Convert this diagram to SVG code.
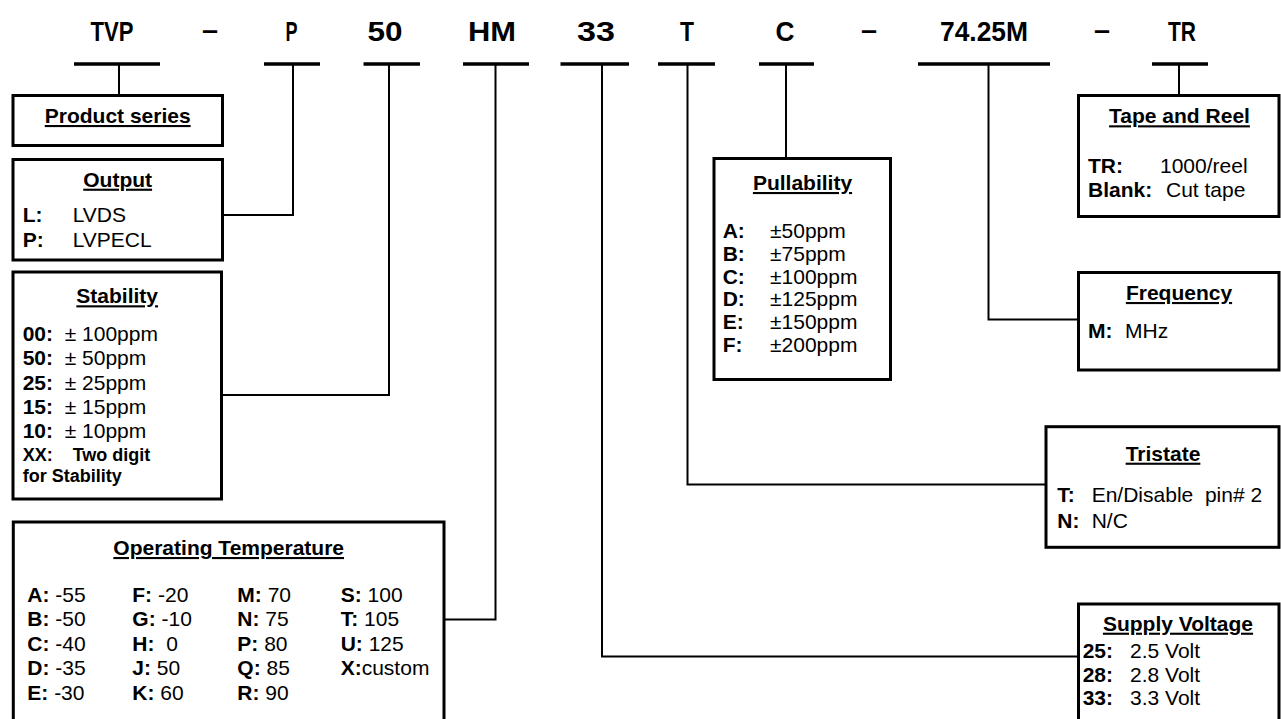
<svg xmlns="http://www.w3.org/2000/svg" width="1281" height="719" viewBox="0 0 1281 719" xml:space="preserve">
<style>
text{font-family:"Liberation Sans",Arial,sans-serif;font-size:21px;fill:#000;white-space:pre}
.hd{font-size:28px;font-weight:bold;text-anchor:middle}
.t{font-weight:bold;text-anchor:middle;text-decoration:underline}
.b{font-weight:bold}
.s{font-size:18px;font-weight:bold}
.box{fill:#fff;stroke:#000;stroke-width:3}
.bar{stroke:#000;stroke-width:3.5;fill:none}
.ln{stroke:#000;stroke-width:2;fill:none}
</style>
<rect width="1281" height="719" fill="#fff"/>
<g id="header">
<text class="hd" x="112" y="41" textLength="43" lengthAdjust="spacingAndGlyphs">TVP</text>
<text class="hd" x="210" y="39" textLength="16" lengthAdjust="spacingAndGlyphs">–</text>
<text class="hd" x="291.5" y="41" textLength="12" lengthAdjust="spacingAndGlyphs">P</text>
<text class="hd" x="385" y="41" textLength="35" lengthAdjust="spacingAndGlyphs">50</text>
<text class="hd" x="492" y="41" textLength="48" lengthAdjust="spacingAndGlyphs">HM</text>
<text class="hd" x="596" y="41" textLength="38" lengthAdjust="spacingAndGlyphs">33</text>
<text class="hd" x="687" y="41" textLength="14" lengthAdjust="spacingAndGlyphs">T</text>
<text class="hd" x="785" y="41" textLength="19" lengthAdjust="spacingAndGlyphs">C</text>
<text class="hd" x="869" y="39" textLength="16" lengthAdjust="spacingAndGlyphs">–</text>
<text class="hd" x="984" y="41" textLength="88" lengthAdjust="spacingAndGlyphs">74.25M</text>
<text class="hd" x="1102" y="39" textLength="16" lengthAdjust="spacingAndGlyphs">–</text>
<text class="hd" x="1182" y="41" textLength="28" lengthAdjust="spacingAndGlyphs">TR</text>
</g>
<g id="connectors">
<line class="bar" x1="74" y1="64" x2="160" y2="64"/>
<line class="bar" x1="264" y1="64" x2="320" y2="64"/>
<line class="bar" x1="363.5" y1="64" x2="420" y2="64"/>
<line class="bar" x1="463" y1="64" x2="529" y2="64"/>
<line class="bar" x1="560.5" y1="64" x2="629" y2="64"/>
<line class="bar" x1="658" y1="64" x2="715" y2="64"/>
<line class="bar" x1="759" y1="64" x2="814" y2="64"/>
<line class="bar" x1="918" y1="64" x2="1050" y2="64"/>
<line class="bar" x1="1152" y1="64" x2="1208" y2="64"/>
<path class="ln" d="M119,64 V95"/>
<path class="ln" d="M293,64 V215 H222"/>
<path class="ln" d="M389,64 V395 H221"/>
<path class="ln" d="M495.5,64 V619.5 H444"/>
<path class="ln" d="M602,64 V656.5 H1078"/>
<path class="ln" d="M687.5,64 V484.5 H1046"/>
<path class="ln" d="M786,64 V158"/>
<path class="ln" d="M988.5,64 V319.5 H1078"/>
<path class="ln" d="M1179,64 V95"/>
</g>
<g id="product-series">
<rect class="box" x="13" y="95.5" width="209.5" height="50"/>
<text class="t" x="117.7" y="123">Product series</text>
</g>
<g id="output">
<rect class="box" x="13" y="159.5" width="209.5" height="100.5"/>
<text class="t" x="117.7" y="186.7">Output</text>
<text class="b" x="22.7" y="221.7">L:</text><text x="72.7" y="221.7">LVDS</text>
<text class="b" x="22.7" y="246.7">P:</text><text x="72.7" y="246.7">LVPECL</text>
</g>
<g id="stability">
<rect class="box" x="13" y="272" width="208.5" height="227"/>
<text class="t" x="117.2" y="303.3">Stability</text>
<text x="22.7" y="340.7"><tspan class="b">00:</tspan>  ± 100ppm</text>
<text x="22.7" y="365"><tspan class="b">50:</tspan>  ± 50ppm</text>
<text x="22.7" y="389.5"><tspan class="b">25:</tspan>  ± 25ppm</text>
<text x="22.7" y="414"><tspan class="b">15:</tspan>  ± 15ppm</text>
<text x="22.7" y="438.3"><tspan class="b">10:</tspan>  ± 10ppm</text>
<text class="s" x="22.7" y="461">XX:</text><text class="s" x="72.7" y="461">Two digit</text>
<text class="s" x="22.7" y="481.7">for Stability</text>
</g>
<g id="operating-temperature">
<rect class="box" x="13.3" y="522" width="430.7" height="220"/>
<text class="t" x="228.7" y="555">Operating Temperature</text>
<text x="27.3" y="601.7"><tspan class="b">A:</tspan> -55</text>
<text x="27.3" y="626.2"><tspan class="b">B:</tspan> -50</text>
<text x="27.3" y="650.7"><tspan class="b">C:</tspan> -40</text>
<text x="27.3" y="675.2"><tspan class="b">D:</tspan> -35</text>
<text x="27.3" y="699.7"><tspan class="b">E:</tspan> -30</text>
<text x="132.3" y="601.7"><tspan class="b">F:</tspan> -20</text>
<text x="132.3" y="626.2"><tspan class="b">G:</tspan> -10</text>
<text x="132.3" y="650.7"><tspan class="b">H:</tspan>  0</text>
<text x="132.3" y="675.2"><tspan class="b">J:</tspan> 50</text>
<text x="132.3" y="699.7"><tspan class="b">K:</tspan> 60</text>
<text x="237.3" y="601.7"><tspan class="b">M:</tspan> 70</text>
<text x="237.3" y="626.2"><tspan class="b">N:</tspan> 75</text>
<text x="237.3" y="650.7"><tspan class="b">P:</tspan> 80</text>
<text x="237.3" y="675.2"><tspan class="b">Q:</tspan> 85</text>
<text x="237.3" y="699.7"><tspan class="b">R:</tspan> 90</text>
<text x="340.7" y="601.7"><tspan class="b">S:</tspan> 100</text>
<text x="340.7" y="626.2"><tspan class="b">T:</tspan> 105</text>
<text x="340.7" y="650.7"><tspan class="b">U:</tspan> 125</text>
<text x="340.7" y="675.2"><tspan class="b">X:</tspan>custom</text>
</g>
<g id="pullability">
<rect class="box" x="714" y="158.5" width="176.5" height="221"/>
<text class="t" x="802.5" y="190">Pullability</text>
<text class="b" x="722.7" y="238.3">A:</text><text x="770" y="238.3">±50ppm</text>
<text class="b" x="722.7" y="261">B:</text><text x="770" y="261">±75ppm</text>
<text class="b" x="722.7" y="283.5">C:</text><text x="770" y="283.5">±100ppm</text>
<text class="b" x="722.7" y="306">D:</text><text x="770" y="306">±125ppm</text>
<text class="b" x="722.7" y="328.7">E:</text><text x="770" y="328.7">±150ppm</text>
<text class="b" x="722.7" y="351.5">F:</text><text x="770" y="351.5">±200ppm</text>
</g>
<g id="tape-and-reel">
<rect class="box" x="1078.5" y="95.5" width="200.5" height="121"/>
<text class="t" x="1179.5" y="123.3">Tape and Reel</text>
<text class="b" x="1088" y="172.7">TR:</text><text x="1160" y="172.7">1000/reel</text>
<text class="b" x="1088" y="196.7">Blank:</text><text x="1166" y="196.7">Cut tape</text>
</g>
<g id="frequency">
<rect class="box" x="1078.5" y="272.5" width="200.5" height="97.5"/>
<text class="t" x="1179" y="300">Frequency</text>
<text class="b" x="1088" y="338.3">M:</text><text x="1125" y="338.3">MHz</text>
</g>
<g id="tristate">
<rect class="box" x="1046" y="426.7" width="233" height="120.6"/>
<text class="t" x="1163" y="460.7">Tristate</text>
<text class="b" x="1057.3" y="502.3">T:</text><text x="1091.7" y="502.3">En/Disable  pin# 2</text>
<text class="b" x="1057.3" y="528.3">N:</text><text x="1091.7" y="528.3">N/C</text>
</g>
<g id="supply-voltage">
<rect class="box" x="1078.5" y="604" width="200.5" height="140"/>
<text class="t" x="1178" y="630.7">Supply Voltage</text>
<text class="b" x="1082.7" y="658.3">25:</text><text x="1130" y="658.3">2.5 Volt</text>
<text class="b" x="1082.7" y="681.5">28:</text><text x="1130" y="681.5">2.8 Volt</text>
<text class="b" x="1082.7" y="705">33:</text><text x="1130" y="705">3.3 Volt</text>
</g>
</svg>
